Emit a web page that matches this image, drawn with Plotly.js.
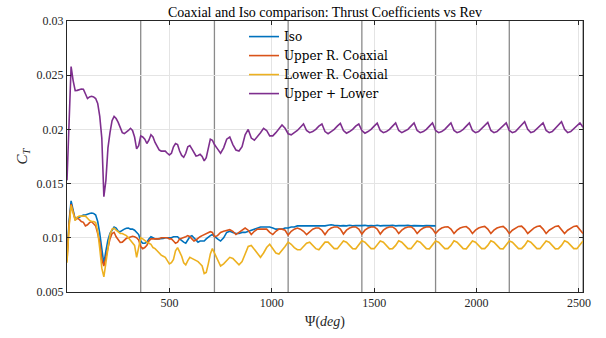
<!DOCTYPE html>
<html><head><meta charset="utf-8">
<script src="https://cdn.plot.ly/plotly-3.0.1.min.js"></script>
<style>html,body{margin:0;padding:0;background:#fff}#chart{width:606px;height:338px}</style>
</head><body><div id="chart"></div>
<script>
// Angle grid (deg): 10-deg steps up to 720, then 15-deg steps to 2520
const angleEarly = [];
for (let a = 0; a <= 720; a += 10) angleEarly.push(a);
const angleLate = [];
for (let a = 735; a <= 2520; a += 15) angleLate.push(a);
const angle = angleEarly.concat(angleLate);

const seriesNames = ["Iso", "Upper R. Coaxial", "Lower R. Coaxial", "Upper + Lower"];
const revMarks = [360, 720, 1080, 1440, 1800, 2160, 2520];
const xTickVals = [500, 1000, 1500, 2000, 2500];
const yTickVals = [0.005, 0.01, 0.015, 0.02, 0.025, 0.03];
const yTickText = ["0.005", "0.01", "0.015", "0.02", "0.025", "0.03"];

const isoCT = [
0.0083,0.0115,0.0134,0.0125,0.0117,0.0118,0.0119,0.0120,0.0121,0.0121,
0.0122,0.01225,0.01228,0.01225,0.0121,0.0115,0.0104,0.0087,0.0076,0.0088,
0.0098,0.0104,0.0107,0.0110,0.0109,0.0106,0.01056,0.0107,0.0108,0.01088,
0.0109,0.0108,0.0108,0.0107,0.0105,0.0103,0.0097,0.0095,0.0095,0.0096,
0.0099,0.0101,0.0100,0.0099,0.0099,0.0099,0.0099,0.00995,0.0100,0.0100,
0.00995,0.0100,0.0101,0.0101,0.0101,0.0099,0.0097,0.0096,0.0095,0.0098,
0.0101,0.0102,0.0100,0.0097,0.0096,0.0097,0.0097,0.0097,0.0099,0.0101,
0.0102,0.0103,0.0101,
0.0099,0.0097,0.0100,0.0105,0.0106,0.0105,0.0104,0.0104,0.0105,0.0105,
0.0106,0.0107,0.0108,0.0109,0.0110,0.0110,0.0110,0.0110,0.0109,0.0108,
0.0108,0.0108,0.0109,0.0109,0.0110,0.0110,0.0111,0.0111,0.0111,0.0111,
0.01108,0.0111,0.01112,0.0111,0.01108,0.0111,0.01115,0.0112,0.01115,0.0111,
0.0111,0.01112,0.0111,0.01115,0.0111,0.01112,0.0111,0.01112,0.01115,0.0111,
0.01112,0.0111,0.01115,0.0111,0.01112,0.0111,0.01112,0.01115,0.0111,0.01112,
0.0111,0.01112,0.01115,0.0111,0.01112,0.0111,0.01112,0.0111,0.01112,0.0111,
0.01112,0.0111
];

const upperCT = [
0.0079,0.0112,0.0131,0.0123,0.0117,0.0118,0.0117,0.0115,0.01143,0.0111,
0.0112,0.0114,0.01149,0.0113,0.0111,0.0104,0.0096,0.0080,0.0074,0.0082,
0.0092,0.0099,0.0104,0.01051,0.0101,0.0098,0.00958,0.0096,0.0098,0.00995,
0.0100,0.0101,0.01014,0.0101,0.0100,0.0098,0.0092,0.0090,0.0091,0.0093,
0.0097,0.0099,0.0099,0.0099,0.0099,0.0099,0.0100,0.0100,0.01005,0.0100,
0.0099,0.0099,0.0097,0.0095,0.0096,0.0099,0.00995,0.0100,0.0101,0.0102,
0.0101,0.0099,0.0097,0.0098,0.0100,0.0101,0.0102,0.0103,0.01035,0.0105,
0.01056,0.0105,0.0101,
0.0102,0.0105,0.0106,0.0107,0.01075,0.0106,0.0103,0.0105,0.0107,0.0109,
0.0107,0.0103,0.0106,0.0108,0.0108,0.0108,0.0108,0.0105,0.0103,0.0106,
0.0108,0.0108,0.0107,0.01025,0.0106,0.0108,0.0109,0.0108,0.0106,0.0103,
0.0106,0.0108,0.0109,0.0109,0.0107,0.0103,0.0107,0.0109,0.0110,0.0110,
0.0108,0.01035,0.0107,0.0109,0.0110,0.0110,0.0108,0.01035,0.0107,0.0109,
0.0110,0.0110,0.0108,0.01035,0.0107,0.0109,0.0110,0.0110,0.0108,0.0104,
0.0107,0.0109,0.0110,0.01102,0.0108,0.0104,0.0107,0.0109,0.0110,0.01102,
0.0108,0.0104,0.0107,0.0109,0.0110,0.01102,0.0108,0.0104,0.0107,0.0109,
0.0110,0.01104,0.0108,0.0104,0.0107,0.0109,0.0110,0.01105,0.0108,0.0104,
0.0107,0.0109,0.0110,0.01105,0.0108,0.0104,0.0107,0.0109,0.01105,0.01108,
0.0108,0.0104,0.0107,0.0109,0.01105,0.0111,0.0108,0.0104,0.0107,0.0109,
0.01105,0.0111,0.0108,0.0104,0.0107,0.0109,0.01105,0.0111,0.0108,0.0104
];

const lowerCT = [
0.0077,0.0110,0.0130,0.0122,0.0116,0.0119,0.0120,0.0120,0.0120,0.0120,
0.0118,0.0116,0.0115,0.0115,0.0114,0.0106,0.0090,0.0072,0.0064,0.0078,
0.0093,0.0103,0.0108,0.01088,0.0107,0.0105,0.0104,0.0104,0.0103,0.0102,
0.0100,0.0098,0.0096,0.0093,0.0082,0.0090,0.0100,0.0099,0.0097,0.0096,
0.0095,0.0094,0.0091,0.0090,0.0088,0.0086,0.0084,0.0083,0.0082,0.0079,
0.0076,0.0077,0.0080,0.0088,0.0091,0.0087,0.0083,0.0077,0.0075,0.0079,
0.0082,0.0081,0.0080,0.0079,0.0078,0.0076,0.0074,0.0067,0.0068,0.0076,
0.0085,0.0090,0.0086,
0.0081,0.0074,0.0076,0.0079,0.0082,0.0081,0.0078,0.0075,0.0078,0.0086,
0.0092,0.0093,0.0089,0.0085,0.0082,0.0086,0.0091,0.0094,0.0090,0.0086,
0.0085,0.0088,0.0092,0.0096,0.0094,0.0091,0.0089,0.0089,0.0092,0.0095,
0.0096,0.0093,0.0090,0.0089,0.0092,0.0096,0.0096,0.0093,0.0090,0.0090,
0.0093,0.0097,0.0096,0.0093,0.0090,0.00898,0.0093,0.00972,0.0096,0.0093,
0.0090,0.0090,0.0093,0.0097,0.0096,0.0093,0.00898,0.0090,0.0093,0.00972,
0.0096,0.0093,0.0090,0.0090,0.0093,0.0097,0.0096,0.0093,0.0090,0.00898,
0.0093,0.0097,0.0096,0.0093,0.0090,0.0090,0.0093,0.00972,0.0096,0.0093,
0.0090,0.00898,0.0093,0.0097,0.0096,0.0093,0.0090,0.0090,0.0093,0.00972,
0.0096,0.0093,0.0090,0.00898,0.0093,0.0097,0.0096,0.0093,0.0090,0.0090,
0.0093,0.00972,0.0096,0.0093,0.0090,0.0090,0.0093,0.0097,0.0096,0.0093,
0.00898,0.0090,0.0093,0.00972,0.0096,0.0093,0.0090,0.0090,0.0093,0.0097
];

const sumCT = [
0.0153,0.0205,0.0258,0.0245,0.02357,0.0236,0.0237,0.02373,0.0237,0.0232,
0.02285,0.0230,0.02305,0.0230,0.02285,0.0224,0.0212,0.0192,0.0138,0.0153,
0.0183,0.0197,0.0208,0.0212,0.0210,0.02065,0.0202,0.0197,0.01962,0.01973,
0.0199,0.0201,0.0199,0.0193,0.0182,0.0185,0.0194,0.0193,0.0191,0.0187,
0.0190,0.0195,0.0193,0.0188,0.0184,0.0181,0.0180,0.0180,0.0180,0.0178,
0.01764,0.0178,0.0184,0.0187,0.0186,0.0180,0.0176,0.01743,0.0178,0.0184,
0.0185,0.0182,0.0178,0.01755,0.0176,0.0177,0.0175,0.0171,0.0174,0.0183,
0.0191,0.0190,0.0186,
0.0182,0.0178,0.0183,0.0191,0.0193,0.0186,0.0181,0.0180,0.0184,0.0195,
0.0200,0.0192,0.0190,0.0193,0.0197,0.0201,0.0199,0.0194,0.0194,0.0197,
0.0200,0.0204,0.0201,0.0196,0.0195,0.0197,0.0199,0.0202,0.0205,0.0199,
0.0197,0.0198,0.0200,0.0203,0.0205,0.0198,0.0196,0.0198,0.0200,0.0203,
0.02055,0.0199,0.01965,0.0198,0.0200,0.0203,0.0205,0.0199,0.01965,0.0198,
0.0200,0.0203,0.02058,0.0199,0.0197,0.0198,0.0200,0.0203,0.0206,0.0199,
0.0197,0.01985,0.0200,0.0203,0.0206,0.0199,0.0197,0.0198,0.0200,0.0203,
0.0206,0.0199,0.0197,0.0198,0.0200,0.0203,0.0206,0.0199,0.0197,0.0198,
0.0200,0.0203,0.0206,0.0199,0.0197,0.0198,0.0201,0.0204,0.02065,0.0199,
0.0197,0.0198,0.0201,0.0204,0.0206,0.0199,0.0197,0.0198,0.0201,0.0204,
0.0207,0.0200,0.0197,0.0198,0.0201,0.0204,0.0206,0.0199,0.0197,0.0198,
0.0201,0.0204,0.0207,0.0200,0.0197,0.0198,0.0201,0.0204,0.0206,0.0202
];

const colors = ["#0072BD", "#D95319", "#EDB120", "#7E2F8E"];
const allY = [isoCT, upperCT, lowerCT, sumCT];
const serif = "Liberation Serif, DejaVu Serif, serif";
const ink = "#262626";

const traces = allY.map((y, i) => ({
  type: "scatter", mode: "lines",
  name: seriesNames[i],
  x: angle.slice(0, y.length), y: y,
  line: {color: colors[i], width: 1.6}
}));

const shapes = revMarks.map(v => ({
  type: "line", xref: "x", yref: "paper", x0: v, x1: v, y0: 0, y1: 1,
  line: {color: "#8a8a8a", width: 1.3}, layer: "below"
}));

const axisCommon = {
  showline: true, linecolor: ink, linewidth: 1, mirror: "ticks",
  ticks: "inside", ticklen: 4, tickcolor: ink,
  showgrid: true, gridcolor: "#e4e4e4", gridwidth: 1, zeroline: false,
  tickfont: {family: serif, size: 12, color: ink}
};

const layout = {
  width: 606, height: 338,
  margin: {l: 67, r: 23, t: 21, b: 46},
  paper_bgcolor: "#fff", plot_bgcolor: "#fff",
  title: {text: "Coaxial and Iso comparison: Thrust Coefficients vs Rev",
          font: {family: serif, size: 14, color: "#000"},
          x: 0.5, xref: "paper", y: 1 - 12/338, yref: "container", yanchor: "middle"},
  xaxis: Object.assign({}, axisCommon, {
    range: [0, 2520], tickvals: xTickVals,
    title: {text: "Ψ(<i>deg</i>)", font: {family: serif, size: 14, color: ink}, standoff: 6}
  }),
  yaxis: Object.assign({}, axisCommon, {
    range: [0.005, 0.03], tickvals: yTickVals, ticktext: yTickText,
    title: {text: "<i>C</i><sub><i>T</i></sub>", font: {family: serif, size: 15, color: ink}, standoff: 5}
  }),
  legend: {x: 0.343, y: 0.996, xanchor: "left", yanchor: "top",
           bgcolor: "rgba(0,0,0,0)", borderwidth: 0,
           font: {family: "DejaVu Serif, serif", size: 12, color: "#000"}},
  shapes: shapes,
  showlegend: true
};

Plotly.newPlot("chart", traces, layout, {staticPlot: true, displayModeBar: false});
</script></body></html>
